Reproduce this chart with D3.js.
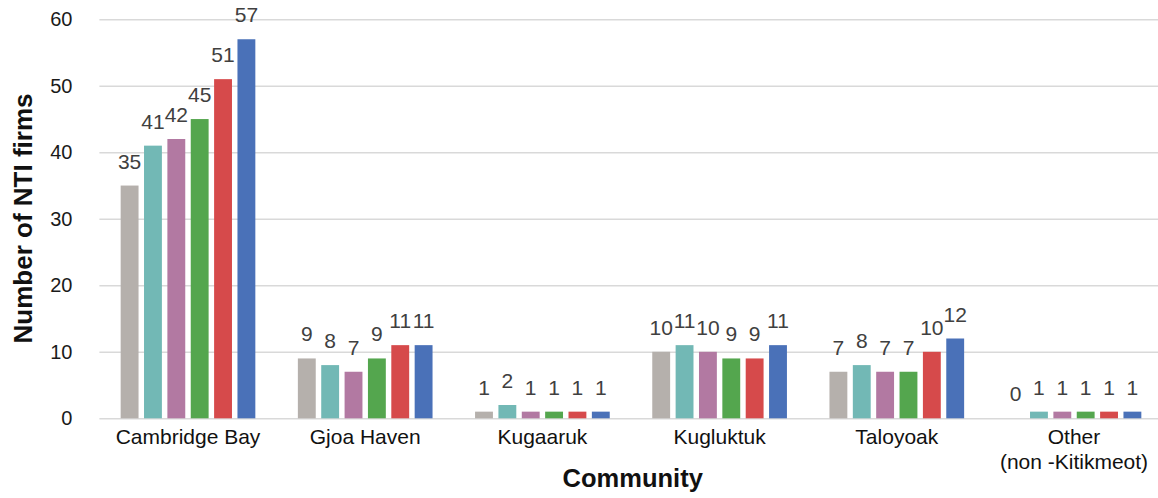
<!DOCTYPE html>
<html>
<head>
<meta charset="utf-8">
<script src="https://cdn.jsdelivr.net/npm/d3@7"></script>
<style>
  html, body { margin: 0; padding: 0; background: #fff; }
  svg { display: block; font-family: "Liberation Sans", Arial, sans-serif; }
</style>
</head>
<body>
<svg id="chart" width="1158" height="498"></svg>
<script>
// Communities (x categories); "\n" splits a label onto two lines
const categories = ["Cambridge Bay", "Gjoa Haven", "Kugaaruk", "Kugluktuk", "Taloyoak", "Other\n(non -Kitikmeot)"];

// Number of NTI firms per community, one array per series
const series1 = [35, 9, 1, 10, 7, 0];
const series2 = [41, 8, 2, 11, 8, 1];
const series3 = [42, 7, 1, 10, 7, 1];
const series4 = [45, 9, 1, 9, 7, 1];
const series5 = [51, 11, 1, 9, 10, 1];
const series6 = [57, 11, 1, 11, 12, 1];

const seriesList = [series1, series2, series3, series4, series5, series6];
const seriesColors = ["#b5b0ac", "#72b8b5", "#b279a2", "#54a64e", "#d64a4b", "#4a71b8"];

const yTicks = [0, 10, 20, 30, 40, 50, 60];

const svg = d3.select("#chart");
const plot = { left: 99.4, right: 1162.6, top: 19.3, bottom: 418.3 };

const x0 = d3.scaleBand()
  .domain(categories)
  .range([plot.left, plot.right])
  .paddingInner(0.24)
  .paddingOuter(0.12);

const x1 = d3.scaleBand()
  .domain(d3.range(seriesList.length))
  .range([0, x0.bandwidth()])
  .paddingInner(0.235)
  .paddingOuter(0);

const y = d3.scaleLinear().domain([0, 60]).range([plot.bottom, plot.top]);

// Horizontal gridlines and value labels on the y axis
const yAxis = d3.axisLeft(y)
  .tickValues(yTicks)
  .tickSize(-(plot.right - plot.left))
  .tickPadding(27)
  .tickFormat(d3.format("d"));

const gy = svg.append("g")
  .attr("transform", `translate(${plot.left},0)`)
  .call(yAxis);
gy.select(".domain").remove();
gy.selectAll(".tick line").attr("stroke", "#d9d9d9").attr("stroke-width", 1.6);
gy.selectAll(".tick text")
  .attr("fill", "#1a1a1a")
  .attr("font-size", 20)
  .attr("font-family", "Liberation Sans, Arial, sans-serif");

// Bars
const rows = categories.map((c, ci) => ({ cat: c, values: seriesList.map(s => s[ci]) }));

const groups = svg.append("g").selectAll("g")
  .data(rows)
  .join("g")
  .attr("transform", d => `translate(${x0(d.cat)},0)`);

groups.selectAll("rect")
  .data(d => d.values.map((v, i) => ({ v, i })))
  .join("rect")
  .attr("x", d => x1(d.i))
  .attr("y", d => y(d.v))
  .attr("width", x1.bandwidth())
  .attr("height", d => y(0) - y(d.v))
  .attr("fill", d => seriesColors[d.i]);

// Value labels above each bar
groups.selectAll("text")
  .data(d => d.values.map((v, i) => ({ v, i })))
  .join("text")
  .attr("x", d => x1(d.i) + x1.bandwidth() / 2)
  .attr("y", d => y(d.v) - 17)
  .attr("text-anchor", "middle")
  .attr("font-size", 21)
  .attr("fill", "#404040")
  .text(d => d.v);

// Category labels under the axis
const xAxis = d3.axisBottom(x0).tickSize(0).tickFormat("");
const gx = svg.append("g")
  .attr("transform", `translate(0,${plot.bottom})`)
  .call(xAxis);
gx.select(".domain").remove();
gx.selectAll(".tick").each(function(d) {
  const lines = d.split("\n");
  const t = d3.select(this).append("text")
    .attr("text-anchor", "middle")
    .attr("font-size", 21)
    .attr("fill", "#111");
  lines.forEach((ln, i) => {
    t.append("tspan").attr("x", 0).attr("y", 26 + i * 25).text(ln);
  });
});

// Axis titles
svg.append("text")
  .attr("x", (plot.left + 1158) / 2 + 4)
  .attr("y", 487)
  .attr("text-anchor", "middle")
  .attr("font-size", 25.5)
  .attr("font-weight", "bold")
  .attr("fill", "#111")
  .text("Community");

svg.append("text")
  .attr("transform", `translate(32,218.5) rotate(-90)`)
  .attr("text-anchor", "middle")
  .attr("font-size", 26)
  .attr("font-weight", "bold")
  .attr("fill", "#111")
  .text("Number of NTI firms");
</script>
</body>
</html>
